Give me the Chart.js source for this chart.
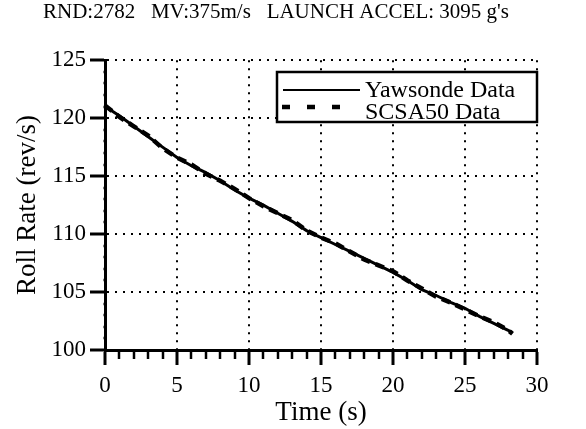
<!DOCTYPE html>
<html>
<head>
<meta charset="utf-8">
<script src="https://cdn.jsdelivr.net/npm/chart.js@4/dist/chart.umd.min.js"></script>
<style>
html,body{margin:0;padding:0;background:#fff;}
canvas{display:block;}
</style>
</head>
<body>
<canvas id="c" width="586" height="429"></canvas>
<script>
// ---- data ----
const titleText = "RND:2782   MV:375m/s   LAUNCH ACCEL: 3095 g's";
const times = [0,1,2,3,4,5,6,7,8,9,10,11,12,13,14,15,16,17,18,19,20,21,22,23,24,25,26,27,28,28.3];
const yawsonde = [121.0,120.2,119.3,118.4,117.5,116.6,115.9,115.3,114.6,113.8,113.1,112.5,111.8,111.1,110.3,109.7,109.1,108.5,107.9,107.3,106.7,106.0,105.2,104.7,104.1,103.6,102.9,102.3,101.7,101.5];
const scsa50 = [121.1,120.1,119.3,118.5,117.4,116.6,116.0,115.2,114.6,113.9,113.1,112.4,111.8,111.2,110.3,109.7,109.2,108.5,107.8,107.3,106.8,106.0,105.3,104.6,104.1,103.5,102.9,102.4,101.7,101.4];
const seriesLabels = ["Yawsonde Data", "SCSA50 Data"];
const xTitle = "Time (s)";
const yTitle = "Roll Rate (rev/s)";
const xMin = 0, xMax = 30, xMajor = 5;
const yMin = 100, yMax = 125, yMajor = 5;

const FONT = "'Liberation Serif','Times New Roman',Times,serif";
Chart.defaults.color = '#000';
Chart.defaults.font.family = FONT;

const toPts = arr => times.map((t, i) => ({x: t, y: arr[i]}));

function isMajor(ctx, step) {
  return ctx.tick && Math.abs(ctx.tick.value / step - Math.round(ctx.tick.value / step)) < 1e-6;
}

const legendBox = {
  id: 'legendBox',
  afterDraw(chart) {
    const c = chart.ctx;
    const ca = chart.chartArea;
    const x1 = 277, x2 = ca.right, y1 = 72, y2 = 122;
    c.save();
    c.fillStyle = '#fff';
    c.fillRect(x1, y1, x2 - x1, y2 - y1);
    c.strokeStyle = '#000';
    c.lineWidth = 2.5;
    c.strokeRect(x1, y1, x2 - x1, y2 - y1);
    const ds = chart.data.datasets;
    c.lineWidth = 2;
    c.setLineDash([]);
    c.beginPath(); c.moveTo(283, 90); c.lineTo(360, 90); c.stroke();
    c.lineWidth = 4.5;
    c.setLineDash([8, 17]);
    c.beginPath(); c.moveTo(282, 107); c.lineTo(345, 107); c.stroke();
    c.setLineDash([]);
    c.fillStyle = '#000';
    c.font = "24px " + FONT;
    c.textBaseline = 'alphabetic';
    c.textAlign = 'left';
    c.fillText(ds[0].label, 365, 97);
    c.fillText(ds[1].label, 365, 119);
    c.restore();
  }
};

const titleShift = {
  id: 'titleShift',
  afterLayout(chart) {
    if (chart.titleBlock) { chart.titleBlock.left = 43; }
  }
};

new Chart(document.getElementById('c'), {
  type: 'line',
  data: {
    datasets: [
      {label: seriesLabels[0], data: toPts(yawsonde), borderColor: '#000', backgroundColor: '#000', borderWidth: 3, pointRadius: 0, tension: 0, fill: false},
      {label: seriesLabels[1], data: toPts(scsa50), borderColor: '#000', backgroundColor: '#000', borderWidth: 4.5, borderDash: [9, 6], pointRadius: 0, tension: 0, fill: false}
    ]
  },
  plugins: [legendBox, titleShift],
  options: {
    responsive: false,
    animation: false,
    events: [],
    layout: {padding: {left: 0, right: 49, top: 0, bottom: 0}},
    plugins: {
      legend: {display: false},
      tooltip: {enabled: false},
      title: {display: true, text: titleText, align: 'start', color: '#000',
              font: {size: 21, weight: 'normal', family: FONT}, padding: {top: 0, bottom: 35}}
    },
    scales: {
      x: {
        type: 'linear', min: xMin, max: xMax,
        afterFit: s => { s.height = 79; },
        ticks: {stepSize: 1, autoSkip: false, maxRotation: 0, padding: 7, font: {size: 23},
                callback: v => (v % xMajor === 0 ? v : '')},
        grid: {
          color: ctx => (isMajor(ctx, xMajor) && ctx.tick.value !== xMin) ? '#000' : 'rgba(0,0,0,0)',
          lineWidth: 2,
          tickLength: 15,
          tickColor: '#000',
          tickWidth: ctx => isMajor(ctx, xMajor) ? 3 : 2.5,
          tickBorderDash: ctx => isMajor(ctx, xMajor) ? [] : [7, 100],
          tickBorderDashOffset: 0
        },
        border: {color: '#000', width: 3, dash: [2, 6]},
        title: {display: true, text: xTitle, font: {size: 27}, padding: {top: 0, bottom: 0}}
      },
      y: {
        type: 'linear', min: yMin, max: yMax,
        afterFit: s => { s.width = 105; },
        ticks: {stepSize: 1, autoSkip: false, padding: 4, font: {size: 23},
                callback: v => (v % yMajor === 0 ? v : '')},
        grid: {
          color: ctx => (isMajor(ctx, yMajor) && ctx.tick.value !== yMin) ? '#000' : 'rgba(0,0,0,0)',
          lineWidth: 2,
          tickLength: 15,
          tickColor: '#000',
          tickWidth: ctx => isMajor(ctx, yMajor) ? 3 : 2.5,
          tickBorderDash: ctx => isMajor(ctx, yMajor) ? [] : [7, 100],
          tickBorderDashOffset: ctx => isMajor(ctx, yMajor) ? 0 : 93.5
        },
        border: {color: '#000', width: 3, dash: [2, 6]},
        title: {display: true, text: yTitle, font: {size: 27}, padding: {top: 12, bottom: 0}}
      }
    }
  }
});
</script>
</body>
</html>
